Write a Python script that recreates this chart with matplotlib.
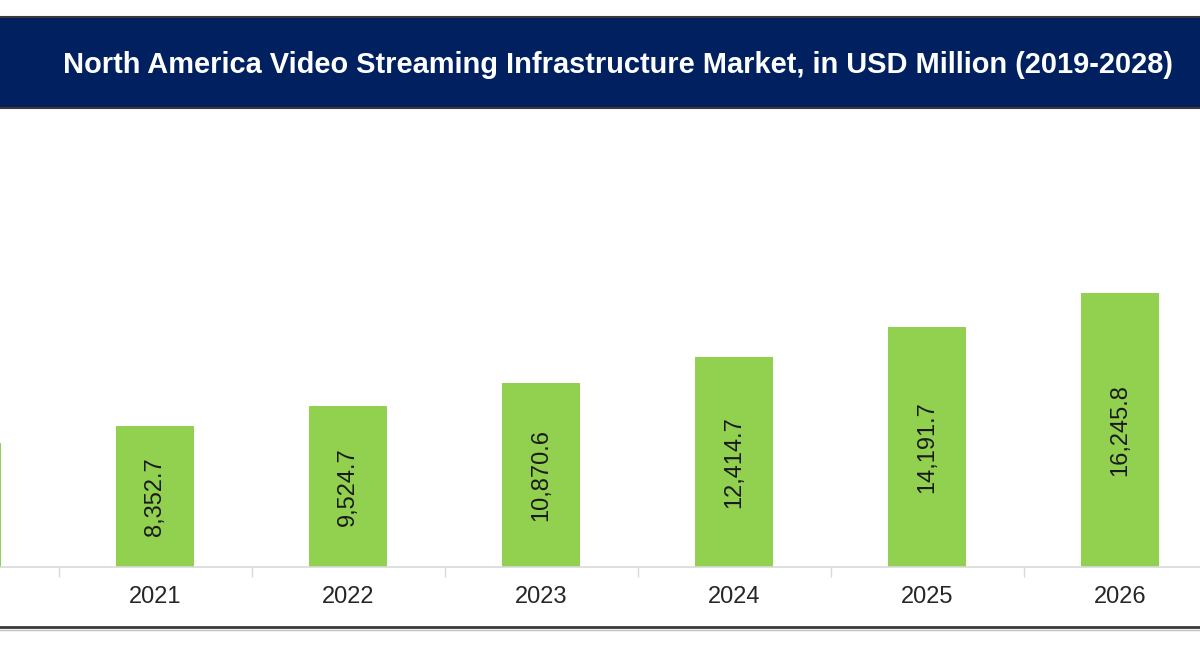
import numpy as np
import matplotlib
matplotlib.use('Agg')
from matplotlib import pyplot as plt
from matplotlib.patches import Rectangle
from matplotlib.lines import Line2D

plt.rcParams['font.family'] = ['Liberation Sans', 'DejaVu Sans']

# data (2020 is only partly visible at the left edge; its value is estimated
# and its label falls outside the crop, so it is left blank)
years = [2020, 2021, 2022, 2023, 2024, 2025, 2026]
market = [7330.0, 8352.7, 9524.7, 10870.6, 12414.7, 14191.7, 16245.8]
value_labels = ['', '8,352.7', '9,524.7', '10,870.6', '12,414.7', '14,191.7', '16,245.8']
title = 'North America Video Streaming Infrastructure Market, in USD Million (2019-2028)'

W, H = 1200, 650
fig = plt.figure(figsize=(W / 100, H / 100), dpi=100)

# plot area: baseline at y=567 px, top at y=130 px
base_px, top_px = 567, 130
ax = fig.add_axes([0, 1 - base_px / H, 1, (base_px - top_px) / H])

x = np.arange(len(years))
bars = ax.bar(x, market, width=0.4, color='#92D050', zorder=2)
for xi, v, lab in zip(x, market, value_labels):
    if lab:
        ax.text(xi, v / 2, lab, rotation=90, ha='center', va='center',
                fontsize=17, color='#1a1a1a')

ax.set_xticks(x)
ax.set_xticklabels([str(y) for y in years], fontsize=17, color='#262626')
ax.set_xticks(x[:-1] + 0.5, minor=True)
ax.tick_params(axis='x', which='major', length=0, pad=14)
ax.tick_params(axis='x', which='minor', length=7, color='#d9d9d9', width=1)
ax.set_yticks([])

# the visible window is a crop of the full chart
first = 1  # index of 2021
ax.set_xlim(first - 155 / 193, first + (W - 155) / 193)
ax.set_ylim(0, (base_px - top_px) * 59.2)

for s in ['top', 'right', 'left']:
    ax.spines[s].set_visible(False)
ax.spines['bottom'].set_color('#d9d9d9')
ax.spines['bottom'].set_linewidth(1.2)

# title banner
fig.patches.append(Rectangle((-0.01, 1 - 108 / H), 1.02, 91 / H,
                             transform=fig.transFigure, facecolor='#002060',
                             edgecolor='#3a3a3a', linewidth=1.5, zorder=0))
fig.text(618 / W, 1 - 65 / H, title, color='white', fontsize=20.9,
         fontweight='bold', ha='center', va='center')

# bottom frame line
fig.lines.append(Line2D([0, 1], [1 - 627 / H] * 2, transform=fig.transFigure,
                        color='#3a3a3a', linewidth=2))
fig.lines.append(Line2D([0, 1], [1 - 630 / H] * 2, transform=fig.transFigure,
                        color='#bfbfbf', linewidth=1))

fig.savefig('out.png', dpi=100)
